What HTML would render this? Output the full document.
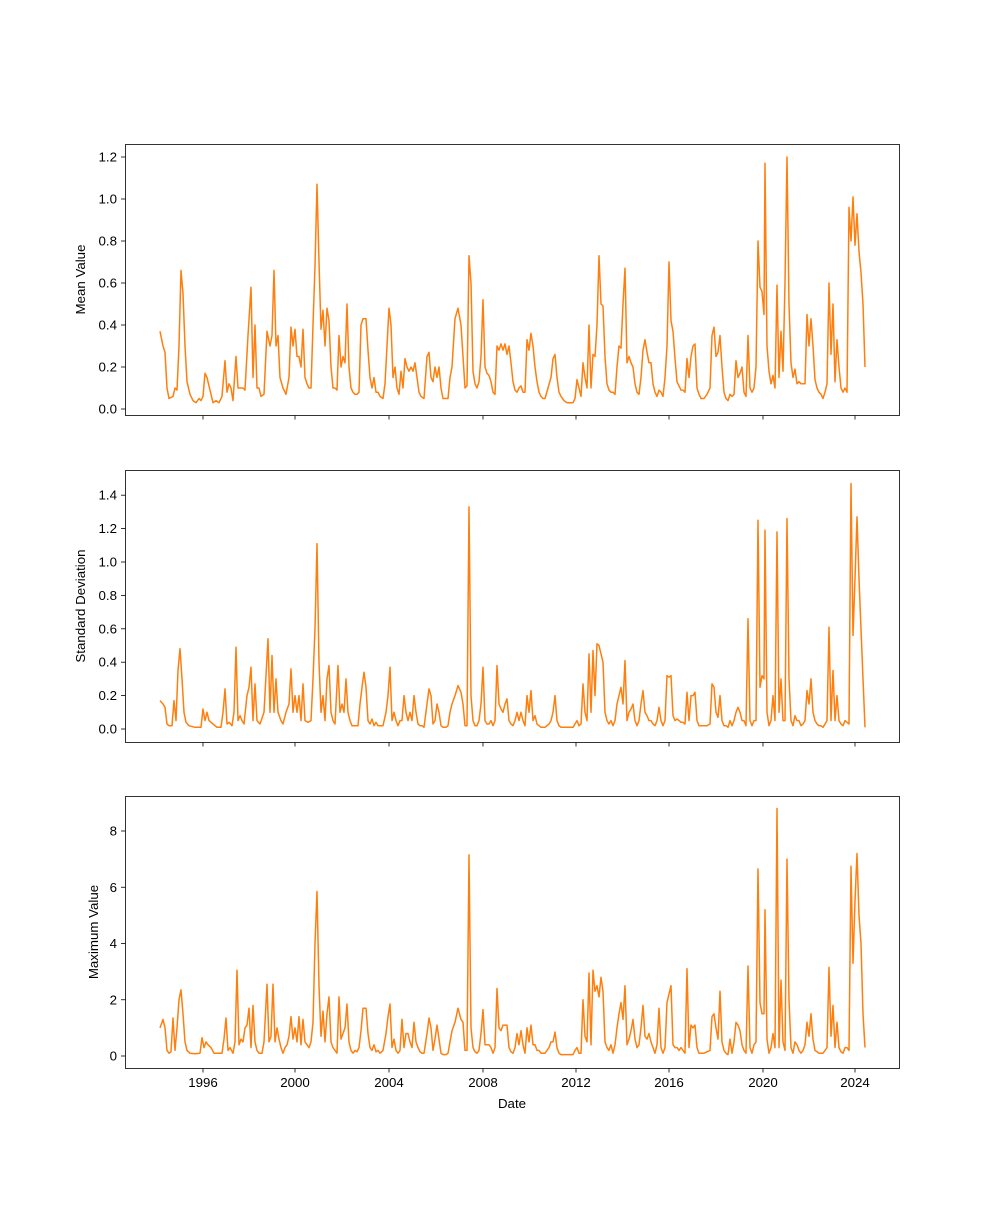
<!DOCTYPE html>
<html><head><meta charset="utf-8"><style>
html,body{margin:0;padding:0;background:#fff;}
svg text{font-family:"Liberation Sans","DejaVu Sans",sans-serif;font-size:13.3px;fill:#000;}
</style></head><body>
<svg id="s" width="1000" height="1200" xmlns="http://www.w3.org/2000/svg"></svg>
<script>
const S=document.getElementById('s');
const NS='http://www.w3.org/2000/svg';
function el(t,a,txt){const e=document.createElementNS(NS,t);for(const k in a)e.setAttribute(k,a[k]);if(txt!==undefined)e.textContent=txt;S.appendChild(e);return e;}
const d1=`160 .37,163 .3,165 .27,167 .1,169 .05,173 .06,175 .1,177 .09,179 .3,181 .66,183 .55,185 .3,187 .13,190 .07,193 .04,196 .03,199 .05,201 .04,203 .06,205 .17,207 .15,209 .11,211 .07,213 .03,216 .04,219 .03,222 .06,225 .23,227 .08,229 .12,231 .1,233 .04,236 .25,238 .1,240 .1,243 .1,245 .09,248 .35,251 .58,253 .15,255 .4,257 .1,259 .1,261 .06,264 .07,267 .37,270 .3,272 .35,274 .66,276 .3,278 .35,280 .15,283 .1,286 .07,289 .15,291 .39,293 .3,295 .38,297 .25,299 .25,301 .2,303 .38,305 .15,307 .12,309 .1,311 .1,313 .4,315 .68,317 1.07,319 .7,321 .38,323 .47,325 .3,327 .48,329 .42,331 .2,333 .1,335 .1,337 .09,339 .35,341 .2,343 .25,345 .22,347 .5,349 .2,351 .1,353 .08,355 .07,357 .07,359 .08,361 .4,363 .43,366 .43,368 .28,370 .15,372 .1,374 .15,376 .08,378 .08,380 .06,383 .05,385 .12,387 .3,389 .48,391 .4,393 .15,395 .2,397 .1,399 .07,401 .18,403 .1,405 .24,407 .2,409 .18,411 .2,413 .18,415 .22,417 .15,419 .08,421 .06,424 .05,427 .25,429 .27,431 .15,433 .13,435 .2,437 .15,439 .2,441 .1,443 .05,446 .05,448 .05,450 .15,452 .2,455 .43,458 .48,461 .4,463 .25,465 .1,467 .11,469 .73,471 .6,473 .18,475 .12,477 .1,479 .13,481 .25,483 .52,485 .2,487 .17,489 .16,491 .13,493 .08,495 .07,497 .3,499 .28,501 .31,503 .28,505 .31,507 .26,509 .3,511 .22,513 .13,515 .09,517 .08,519 .1,521 .11,523 .08,525 .08,527 .33,529 .28,531 .36,533 .3,535 .2,537 .13,539 .08,541 .06,543 .05,545 .05,548 .1,551 .15,553 .24,555 .26,557 .15,559 .08,561 .06,564 .04,567 .03,570 .03,573 .03,575 .05,577 .14,579 .1,581 .06,583 .22,585 .15,587 .1,589 .4,591 .1,593 .26,595 .25,597 .4,599 .73,601 .5,603 .49,605 .25,607 .12,609 .09,611 .08,613 .08,615 .07,617 .2,619 .3,621 .29,623 .5,625 .67,627 .22,629 .25,631 .22,633 .2,635 .12,637 .08,639 .07,641 .15,643 .28,645 .33,647 .27,649 .22,651 .22,653 .12,655 .08,657 .06,659 .09,661 .08,663 .06,665 .15,667 .3,669 .7,671 .42,673 .37,675 .24,677 .13,679 .11,681 .09,683 .09,685 .08,687 .24,689 .15,691 .25,693 .3,695 .31,697 .1,699 .07,701 .05,704 .05,707 .07,710 .1,712 .35,714 .39,716 .25,718 .27,720 .35,722 .2,724 .08,726 .05,728 .04,730 .07,732 .06,734 .07,736 .23,738 .15,740 .17,742 .2,744 .08,746 .06,748 .35,750 .1,752 .08,754 .1,756 .2,758 .8,760 .58,762 .56,764 .45,765 1.17,767 .3,769 .18,771 .12,773 .16,775 .1,777 .59,779 .15,781 .37,783 .18,785 .6,787 1.2,789 .5,791 .22,793 .15,795 .19,797 .12,799 .13,801 .12,803 .12,805 .12,807 .45,809 .3,811 .43,813 .3,815 .14,817 .1,819 .08,821 .07,823 .05,825 .08,827 .12,829 .6,831 .26,833 .5,835 .13,837 .33,839 .2,841 .1,843 .08,845 .1,847 .08,849 .96,851 .8,853 1.01,855 .78,857 .93,859 .75,861 .65,863 .5,865 .2`;
const d2=`160 .17,163 .15,165 .13,167 .03,169 .02,172 .02,174 .17,176 .05,178 .35,180 .48,182 .3,184 .1,186 .04,189 .02,195 .01,201 .01,203 .12,205 .05,207 .1,209 .05,213 .03,217 .01,221 .01,223 .1,225 .24,227 .03,229 .04,232 .02,234 .1,236 .49,238 .05,240 .08,242 .05,244 .03,247 .2,249 .25,251 .37,253 .05,255 .27,257 .05,260 .03,264 .1,268 .54,270 .1,272 .44,274 .1,276 .3,278 .1,281 .05,283 .03,286 .1,289 .15,291 .36,293 .1,295 .2,297 .1,299 .2,301 .05,303 .27,305 .05,308 .04,311 .05,313 .3,315 .6,317 1.11,319 .4,321 .1,323 .2,325 .05,327 .3,329 .38,331 .1,333 .05,335 .03,338 .38,340 .1,342 .15,344 .1,346 .3,348 .1,350 .05,352 .02,355 .02,358 .02,360 .15,362 .25,364 .34,366 .25,368 .05,370 .03,372 .06,374 .02,376 .04,378 .02,380 .02,383 .02,386 .1,388 .2,390 .37,392 .05,394 .1,396 .05,398 .02,400 .05,402 .05,404 .2,406 .1,408 .05,410 .1,412 .05,414 .2,416 .1,418 .03,420 .02,422 .02,424 .01,427 .15,429 .24,431 .2,433 .03,435 .05,437 .15,439 .1,441 .02,443 .01,446 .01,448 .02,450 .1,452 .15,455 .2,458 .26,461 .22,463 .15,465 .02,467 .02,469 1.33,471 .2,473 .05,475 .02,477 .02,479 .05,481 .15,483 .37,485 .05,487 .03,489 .03,491 .05,493 .02,495 .05,497 .38,499 .15,501 .12,503 .1,505 .15,507 .18,509 .05,511 .03,513 .02,515 .05,517 .1,519 .05,521 .1,523 .05,525 .02,527 .2,529 .1,531 .23,533 .05,535 .08,537 .03,539 .02,541 .01,545 .01,549 .03,551 .05,553 .1,555 .2,557 .05,559 .02,561 .01,565 .01,570 .01,573 .01,575 .03,577 .05,579 .02,581 .03,583 .27,585 .1,587 .05,589 .45,591 .1,593 .47,595 .2,597 .51,599 .5,601 .45,603 .4,605 .1,607 .05,609 .03,611 .05,613 .02,615 .05,617 .15,619 .2,621 .25,623 .15,625 .41,627 .05,629 .1,631 .12,633 .15,635 .05,637 .02,639 .05,641 .15,643 .23,645 .1,647 .08,649 .05,651 .05,653 .03,655 .02,657 .05,659 .13,661 .05,663 .02,665 .05,667 .32,669 .31,671 .32,673 .08,675 .05,677 .06,679 .05,681 .04,683 .04,685 .03,687 .22,689 .05,691 .2,693 .2,695 .22,697 .05,699 .02,701 .02,704 .02,707 .02,710 .03,712 .27,714 .25,716 .1,718 .07,720 .2,722 .05,724 .02,726 .02,728 .01,730 .05,732 .02,734 .05,736 .1,738 .13,740 .1,742 .05,744 .05,746 .02,748 .66,750 .05,752 .02,754 .05,756 .05,758 1.25,760 .25,762 .32,764 .3,765 1.19,767 .1,769 .02,771 .05,773 .2,775 .05,777 1.18,779 .1,781 .3,783 .05,785 .05,787 1.26,789 .3,791 .05,793 .02,795 .08,797 .05,799 .05,801 .02,803 .03,805 .05,807 .23,809 .15,811 .3,813 .1,815 .05,817 .03,819 .02,821 .02,823 .01,825 .03,827 .05,829 .61,831 .05,833 .35,835 .05,837 .2,839 .05,841 .03,843 .02,845 .05,847 .04,849 .03,851 1.47,853 .56,855 .9,857 1.27,859 .9,861 .6,863 .3,865 .01`;
const d3=`160 1.0,163 1.3,165 1.0,167 .2,169 .1,171 .15,173 1.35,175 .2,177 1.0,179 2.0,181 2.35,183 1.5,185 .5,187 .2,190 .1,195 .08,200 .1,202 .65,204 .3,206 .5,208 .4,211 .3,214 .1,218 .1,222 .1,224 .6,226 1.35,228 .2,230 .3,233 .1,235 .5,237 3.05,239 .4,241 .6,243 .5,245 1.0,247 1.1,249 1.7,251 .3,253 1.8,255 .5,257 .2,259 .1,262 .1,264 .5,267 2.55,269 .5,271 .7,273 2.55,275 .5,277 1.0,279 .6,281 .3,283 .1,285 .3,287 .4,289 .7,291 1.4,293 .6,295 1.0,297 .5,299 1.4,301 .4,303 1.3,305 .5,307 .4,309 .3,311 .5,313 1.2,315 4.0,317 5.85,319 2.5,321 .7,323 1.6,325 .5,327 1.5,329 2.1,331 .5,333 .3,335 .2,337 .1,339 2.1,341 .6,343 .8,345 1.0,347 1.85,349 .5,351 .2,353 .1,355 .2,357 .15,359 .3,361 .9,363 1.7,366 1.7,368 .8,370 .3,372 .2,374 .4,376 .15,378 .2,380 .1,383 .2,386 .8,388 1.4,390 1.85,392 .3,394 .6,396 .2,398 .1,400 .2,402 1.3,404 .3,406 .8,408 .8,410 .5,412 .3,414 1.2,416 .5,418 .3,420 .15,422 .1,424 .1,427 .8,429 1.35,431 1.0,433 .2,435 .6,437 1.1,439 .6,441 .1,443 .05,446 .05,448 .1,450 .5,452 .9,455 1.2,458 1.7,461 1.3,463 1.2,465 .2,467 .2,469 7.15,471 1.0,473 .3,475 .15,477 .1,479 .2,481 .8,483 1.65,485 .4,487 .4,489 .4,491 .3,493 .1,495 .3,497 2.4,499 1.0,501 .9,503 1.1,505 1.1,507 1.1,509 .3,511 .15,513 .1,515 .3,517 .8,519 .4,521 .9,523 .4,525 .1,527 1.0,529 .5,531 1.1,533 .4,535 .4,537 .2,539 .2,541 .1,545 .1,549 .3,551 .5,553 .5,555 .85,557 .3,559 .1,561 .05,565 .05,570 .05,573 .05,575 .2,577 .3,579 .1,581 .1,583 2.0,585 .7,587 .5,589 2.95,591 .4,593 3.05,595 2.3,597 2.5,599 2.1,601 2.8,603 2.3,605 .5,607 .3,609 .2,611 .4,613 .1,615 .4,617 1.0,619 1.5,621 1.9,623 1.3,625 2.5,627 .4,629 .6,631 .9,633 1.3,635 .6,637 .3,639 .4,641 1.0,643 1.8,645 .7,647 .6,649 .8,651 .5,653 .3,655 .1,657 .4,659 1.7,661 .3,663 .1,665 .3,667 1.9,669 2.2,671 2.5,673 .4,675 .3,677 .3,679 .2,681 .3,683 .2,685 .1,687 3.1,689 .3,691 1.1,693 1.0,695 1.1,697 .3,699 .1,701 .1,704 .1,707 .15,710 .2,712 1.4,714 1.5,716 1.0,718 .6,720 2.3,722 .5,724 .2,726 .1,728 .05,730 .6,732 .1,734 .5,736 1.2,738 1.1,740 .9,742 .4,744 .2,746 .1,748 3.2,750 .3,752 .1,754 .4,756 .5,758 6.65,760 1.9,762 1.5,764 1.5,765 5.2,767 .6,769 .1,771 .3,773 .8,775 .3,777 8.8,779 .3,781 2.7,783 .5,785 .2,787 7.0,789 2.0,791 .3,793 .1,795 .5,797 .4,799 .2,801 .1,803 .2,805 .4,807 1.2,809 .7,811 1.5,813 .6,815 .2,817 .15,819 .1,821 .1,823 .1,825 .2,827 .3,829 3.15,831 .7,833 1.8,835 .3,837 1.2,839 .3,841 .15,843 .1,845 .3,847 .3,849 .2,851 6.75,853 3.3,855 5.5,857 7.2,859 5.0,861 4.0,863 1.5,865 .3`;
const panels=[
 {top:144,bot:415,y0:409,ppu:210,ticks:[0,.2,.4,.6,.8,1.0,1.2],fmt:v=>v.toFixed(1),lab:'Mean Value',d:d1,lx:85},
 {top:470,bot:742,y0:729,ppu:167,ticks:[0,.2,.4,.6,.8,1.0,1.2,1.4],fmt:v=>v.toFixed(1),lab:'Standard Deviation',d:d2,lx:85},
 {top:796,bot:1068,y0:1056,ppu:28.125,ticks:[0,2,4,6,8],fmt:v=>String(v),lab:'Maximum Value',d:d3,lx:98},
];
const xt=[[203,'1996'],[295,'2000'],[389,'2004'],[483,'2008'],[576,'2012'],[669,'2016'],[763,'2020'],[855,'2024']];
panels.forEach((p,i)=>{
 const pts=p.d.split(',').map(s=>{const [x,v]=s.trim().split(' ').map(Number);return x+','+(p.y0-v*p.ppu).toFixed(1);}).join(' ');
 el('polyline',{points:pts,fill:'none',stroke:'#ff7f0e','stroke-width':1.5,'stroke-linejoin':'round'});
 el('rect',{x:125.5,y:p.top+.5,width:774,height:p.bot-p.top,fill:'none',stroke:'#000','stroke-width':0.8});
 p.ticks.forEach(v=>{const y=p.y0-v*p.ppu;el('line',{x1:121,x2:125.5,y1:y,y2:y,stroke:'#000','stroke-width':0.8});
  el('text',{x:117,y:y+4.5,'text-anchor':'end'},p.fmt(v));});
 xt.forEach(([x,t])=>{el('line',{x1:x,x2:x,y1:p.bot+.5,y2:p.bot+4.5,stroke:'#000','stroke-width':0.8});
  if(i==2)el('text',{x:x,y:p.bot+19,'text-anchor':'middle'},t);});
 const cy=(p.top+p.bot)/2;
 el('text',{x:p.lx,y:cy,'text-anchor':'middle',transform:`rotate(-90 ${p.lx} ${cy})`},p.lab);
});
el('text',{x:512,y:1108,'text-anchor':'middle'},'Date');
</script>
</body></html>
